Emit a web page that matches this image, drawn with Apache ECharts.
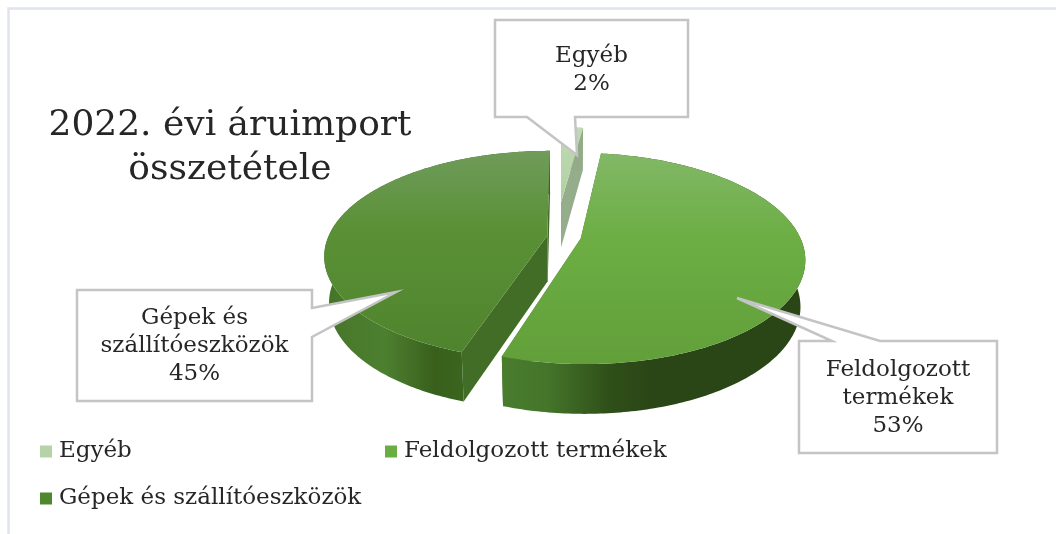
<!DOCTYPE html>
<html>
<head>
<meta charset="utf-8">
<style>html,body{margin:0;padding:0;background:#fff}#c{width:1056px;height:534px}</style>
<script src="https://cdn.jsdelivr.net/npm/echarts@6/dist/echarts.min.js"></script>
</head>
<body>
<div id="c"></div>
<script>
const categories = ['Egyéb', 'Feldolgozott termékek', 'Gépek és szállítóeszközök'];
const values = [2, 53, 45];
const explode = [0.36, 0.085, 0.07];
const legendColors = ['#b5d3a6', '#6aad41', '#4f8630'];
const labelLines = [['Egyéb'], ['Feldolgozott', 'termékek'], ['Gépek és', 'szállítóeszközök']];

const FONT = '"DejaVu Serif", serif';
const total = values.reduce((a, b) => a + b, 0);
const LG = (x0, y0, x1, y1, cols) => new echarts.graphic.LinearGradient(x0, y0, x1, y1,
  cols.map((c) => ({ offset: c[0], color: c[1] })));

// simple perspective projection of the disk
const xc = 562.5, yc = 236.5, A = 219, B = 101, K = -0.19;
function proj(X, Y, bottom) {
  const den = 1 + K * Y;
  let px = A * X / den, py = B * Y / den;
  if (bottom) { px *= 0.98; py = 46 + py * 1.03; }
  return [xc + px, yc + py];
}
const looks = [
  { top: [[0, '#c0dbb3'], [1, '#b0d0a0']], wall: [[0, '#93ab88'], [1, '#93ab88']], cut: '#96ad8b', nudge: -0.03 },
  { top: [[0, '#82b866'], [0.4, '#6cae44'], [1, '#629f3a']],
    wall: [[0, '#4a7c2e'], [0.15, '#44752a'], [0.35, '#2f5019'], [0.5, '#2a4516'], [1, '#2a4616']], cut: '#3f6e25', nudge: 0 },
  { top: [[0, '#6f9c5b'], [0.4, '#5a9035'], [1, '#4f842e']],
    wall: [[0, '#447329'], [0.12, '#4a7a2c'], [0.27, '#4d7f30'], [0.49, '#38601c'], [0.62, '#3b661f'], [1, '#3b661f']], cut: '#416d27', nudge: 0 }
];

function sliceRender(idx) {
  return function (params, api) {
    const v = api.value(0);
    const before = values.slice(0, idx).reduce((a, b) => a + b, 0);
    const t0 = before / total * 2 * Math.PI, t1 = (before + v) / total * 2 * Math.PI;
    const mid = (t0 + t1) / 2, e = explode[idx];
    const look = looks[idx];
    const ex = e * Math.sin(mid) + look.nudge, ey = -e * Math.cos(mid);
    const n = Math.max(2, Math.ceil((t1 - t0) / 0.015));
    const arcTop = [], arcBot = [];
    for (let i = 0; i <= n; i++) {
      const t = t0 + (t1 - t0) * i / n;
      arcTop.push(proj(ex + Math.sin(t), ey - Math.cos(t), false));
      arcBot.push(proj(ex + Math.sin(t), ey - Math.cos(t), true));
    }
    const aT = proj(ex, ey, false), aB = proj(ex, ey, true);
    const poly = (points, fill) => ({ type: 'polygon', shape: { points }, style: { fill, stroke: null } });
    const children = [
      poly([aT, arcTop[0], arcBot[0], aB], look.cut),
      poly([aT, arcTop[n], arcBot[n], aB], look.cut),
      poly(arcTop.concat(arcBot.slice().reverse()), LG(0, 0, 1, 0, look.wall)),
      poly([aT].concat(arcTop), LG(0, 0, 0, 1, look.top))
    ];
    return { type: 'group', children };
  };
}

// callout boxes: [left, top, right, bottom], wedge outline, first text line y
const callouts = [
  { box: [495, 20, 688, 117], wedge: [[575, 117], [577, 155], [527, 117]], edge: 'bottom', y: 56 },
  { box: [799, 341, 997, 453], wedge: [[832, 341], [737, 298], [880, 341]], edge: 'top', y: 370 },
  { box: [77, 290, 312, 401], wedge: [[312, 308], [396, 292], [312, 337]], edge: 'right', y: 318 }
];
function calloutPoints(c) {
  const [l, t, r, b] = c.box, w = c.wedge;
  if (c.edge === 'bottom') return [[l, t], [r, t], [r, b], w[0], w[1], w[2], [l, b]];
  if (c.edge === 'top') return [[l, t], w[0], w[1], w[2], [r, t], [r, b], [l, b]];
  return [[l, t], [r, t], w[0], w[1], w[2], [r, b], [l, b]];
}
function calloutRender(params, api) {
  const idx = params.dataIndex, c = callouts[idx];
  const pct = Math.round(api.value(0) / total * 100) + '%';
  const lines = labelLines[idx].concat([pct]);
  const children = [{
    type: 'polygon', shape: { points: calloutPoints(c) },
    style: { fill: '#fff', stroke: '#c4c4c4', lineWidth: 2.5 }
  }];
  lines.forEach((s, i) => children.push({
    type: 'text',
    style: { text: s, x: (c.box[0] + c.box[2]) / 2, y: c.y + i * 28, align: 'center', verticalAlign: 'middle',
      font: '23px ' + FONT, fill: '#262626' }
  }));
  return { type: 'group', children };
}

const series = categories.map((name, i) => ({
  type: 'custom', name, coordinateSystem: 'none', silent: true, z: 2,
  itemStyle: { color: legendColors[i] },
  renderItem: sliceRender(i),
  data: [values[i]]
}));
series.push({
  type: 'custom', name: 'címkék', coordinateSystem: 'none', silent: true, z: 5,
  renderItem: calloutRender,
  data: values.slice()
});

const legendBase = { orient: 'horizontal', icon: 'rect', itemWidth: 12, itemHeight: 12, selectedMode: false, padding: 0,
  textStyle: { fontFamily: FONT, fontSize: 23, color: '#262626', padding: [0, 0, 0, 2] } };

const chart = echarts.init(document.getElementById('c'), null, { renderer: 'canvas' });
chart.setOption({
  animation: false,
  backgroundColor: '#fff',
  title: {
    text: '2022. évi áruimport\nösszetétele',
    left: 229, top: 99, textAlign: 'center',
    textStyle: { fontFamily: FONT, fontSize: 36, fontWeight: 'normal', color: '#262626', lineHeight: 44 }
  },
  legend: [
    Object.assign({}, legendBase, { data: [categories[0]], left: 40, top: 440 }),
    Object.assign({}, legendBase, { data: [categories[1]], left: 385, top: 440 }),
    Object.assign({}, legendBase, { data: [categories[2]], left: 40, top: 487 })
  ],
  graphic: [{
    type: 'polyline', silent: true, z: 0,
    shape: { points: [[8.5, 534], [8.5, 8.5], [1056, 8.5]] },
    style: { stroke: '#dfe4ef', lineWidth: 2.5, fill: null }
  }],
  series
});
chart.setOption({ title: { left: 225 } });
</script>
</body>
</html>
